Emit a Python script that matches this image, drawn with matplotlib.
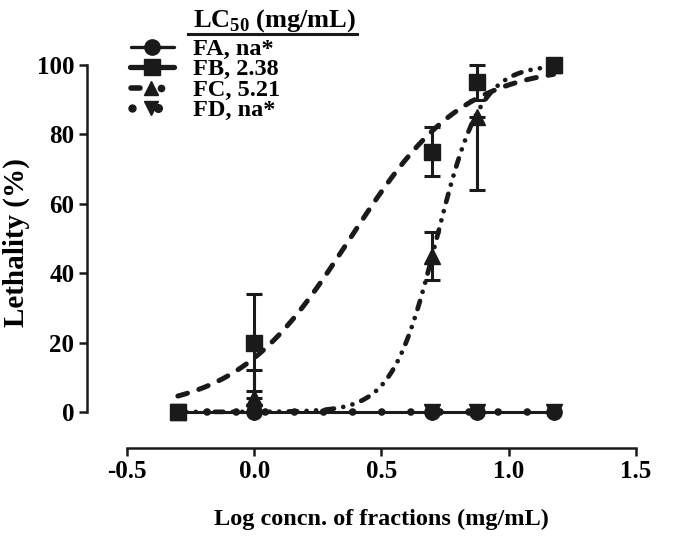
import numpy as np
import matplotlib
matplotlib.use("Agg")
import matplotlib.pyplot as plt
from matplotlib.lines import Line2D

plt.rcParams["font.family"] = "Liberation Serif"
plt.rcParams["font.weight"] = "bold"
plt.rcParams["mathtext.fontset"] = "custom"
plt.rcParams["mathtext.rm"] = "Liberation Serif:bold"
plt.rcParams["mathtext.bf"] = "Liberation Serif:bold"

# data: log concentration of fractions (mg/mL) vs lethality (%)
log_conc = [-0.30, 0.0, 0.699, 0.875, 1.176]
fa_mean = [0, 0, 0, 0, 0]
fb_mean = [0, 20, 75, 95, 100]
fb_err = [0, 14, 7, 5, 0]
fc_mean = [0, 4, 45, 85, 100]
fc_err_low = [0, 0, 7, 21, 0]
fc_err_high = [0, 8, 7, 0, 0]
fd_mean = [0, 0, 0, 0, 0]

# LC50 values from the legend, hill slopes estimated from the drawn fits
lc50_fb = 2.38
lc50_fc = 5.21
hill_fb = 1.95
hill_fc = 5.0

labels = ["FA, na*", "FB, 2.38", "FC, 5.21", "FD, na*"]

W, H = 685, 540
black = "#1a1a1a"


def hill(x, lc50, slope):
    return 100.0 / (1.0 + 10 ** ((np.log10(lc50) - x) * slope))


def fx(px):
    return px / W


def fy(py):
    return 1 - py / H


fig = plt.figure(figsize=(W / 100, H / 100), dpi=100)
ax = fig.add_axes([0.127, 0.1704, 0.8015, 0.7092])

x_fit = np.linspace(log_conc[0], log_conc[-1], 300)

# fitted curves
ax.plot(x_fit, hill(x_fit, lc50_fb, hill_fb), color=black, lw=3.6,
        dashes=(2.0, 2.4), dash_capstyle="round", zorder=2)
ax.plot(x_fit, hill(x_fit, lc50_fc, hill_fc), color=black, lw=3.4,
        dashes=(1.8, 2.0, 0.01, 2.0, 0.01, 2.0), dash_capstyle="round", zorder=2)
ax.plot([log_conc[0], log_conc[-1]], [0, 0], color=black, lw=2.2, zorder=2)
ax.plot([log_conc[0], log_conc[-1]], [0, 0], color=black, lw=5.5,
        dashes=(0.01, 3.8), dash_capstyle="round", zorder=2)

# points with error bars
kw = dict(color=black, ls="none", elinewidth=2.2, capsize=5.5, capthick=2.2,
          clip_on=False, zorder=4)
ax.errorbar(log_conc, fb_mean, yerr=fb_err, marker="s", ms=12, **kw)
ax.errorbar(log_conc, fc_mean, yerr=[fc_err_low, fc_err_high], marker="^", ms=11, **kw)
ax.plot(log_conc, fd_mean, marker="v", ms=11, ls="none", color=black,
        clip_on=False, zorder=4)
ax.plot(log_conc, fa_mean, marker="o", ms=11, ls="none", color=black,
        clip_on=False, zorder=4)

ax.set_xlim(-0.657, 1.5)
ax.set_ylim(-10.4, 100)
ax.spines["top"].set_visible(False)
ax.spines["right"].set_visible(False)
ax.spines["left"].set_bounds(0, 100)
ax.spines["bottom"].set_bounds(-0.5, 1.5)
for s in ("left", "bottom"):
    ax.spines[s].set_linewidth(1.8)
    ax.spines[s].set_color(black)
ax.set_yticks([0, 20, 40, 60, 80, 100])
ax.set_xticks([-0.5, 0.0, 0.5, 1.0, 1.5])
ax.set_xticklabels(["-0.5", "0.0", "0.5", "1.0", "1.5"])
ax.tick_params(width=1.8, length=6, labelsize=18, color=black, pad=3)
for t in ax.get_xticklabels() + ax.get_yticklabels():
    t.set_fontweight("bold")

# axis titles placed at the reference's centres
fig.text(fx(381), fy(519), "Log concn. of fractions (mg/mL)", ha="center",
         va="center", fontsize=17.5, fontweight="bold")
fig.text(fx(16), fy(243), "Lethality (%)", ha="center", va="center",
         rotation=90, fontsize=21, fontweight="bold")

# legend drawn by hand (GraphPad style, tight rows)
tf = fig.transFigure
rows_y = [47, 67, 88, 108]


def seg(x1, x2, y, lw):
    fig.add_artist(Line2D([fx(x1), fx(x2)], [fy(y), fy(y)], transform=tf,
                          color=black, lw=lw, solid_capstyle="round"))


def mark(x, y, m, ms):
    fig.add_artist(Line2D([fx(x)], [fy(y)], transform=tf, color=black,
                          marker=m, ms=ms, ls="none"))


seg(131, 174, rows_y[0], 2.4)
mark(152, rows_y[0], "o", 11)
seg(130, 174, rows_y[1], 3.8)
mark(152, rows_y[1], "s", 11)
seg(131, 140, rows_y[2], 4.0)
mark(151, rows_y[2], "^", 10)
mark(161, rows_y[2], "o", 4.5)
mark(132, rows_y[3], "o", 5)
mark(151, rows_y[3], "v", 10)
mark(158, rows_y[3], "o", 5.5)
for y, lab in zip(rows_y, labels):
    fig.text(fx(193), fy(y), lab, ha="left", va="center_baseline",
             fontsize=17.5, fontweight="bold")

fig.text(fx(275), fy(17), r"LC$_{\mathbf{50}}$ (mg/mL)", ha="center",
         va="center_baseline", fontsize=19, fontweight="bold")
fig.add_artist(Line2D([fx(188), fx(357)], [fy(34), fy(34)], transform=tf,
                      color=black, lw=2.2))

fig.savefig("out.png", dpi=100)
